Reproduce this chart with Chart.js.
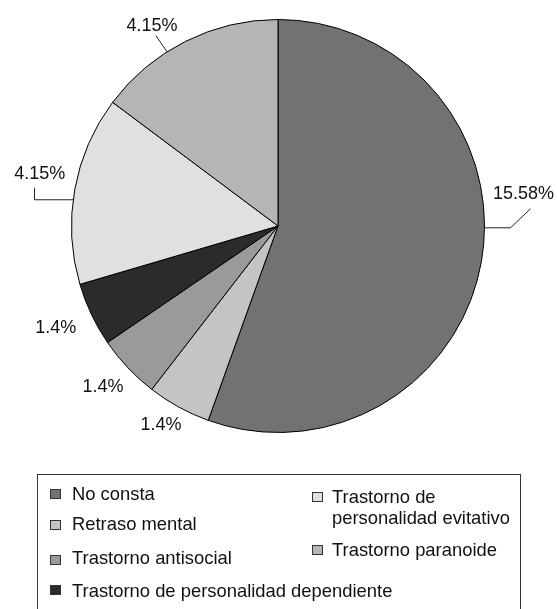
<!DOCTYPE html>
<html>
<head>
<meta charset="utf-8">
<script src="https://cdn.jsdelivr.net/npm/chart.js@4/dist/chart.umd.min.js"></script>
<style>
  html, body { margin: 0; padding: 0; background: #fff; overflow: hidden; }
  #wrap { position: relative; width: 557px; height: 609px; }
  #c { position: absolute; left: 0; top: 0; }
  #legend { position: absolute; left: 37px; top: 474px; width: 484px; height: 160px;
            border: 1px solid #333; box-sizing: border-box; }
  .item { position: absolute; font-family: "Liberation Sans", Arial, sans-serif; font-size: 18.4px;
          line-height: 20px; color: #111; white-space: nowrap; }
  .sw { position: absolute; width: 11px; height: 10px; border: 1px solid #333; box-sizing: border-box; }
</style>
</head>
<body>
<div id="wrap">
  <canvas id="c" width="557" height="609"></canvas>
  <div id="legend"></div>
</div>
<script>
// ---- data ----
const categories = [
  "No consta",
  "Retraso mental",
  "Trastorno antisocial",
  "Trastorno de personalidad dependiente",
  "Trastorno de personalidad evitativo",
  "Trastorno paranoide"
];
const values = [15.58, 1.4, 1.4, 1.4, 4.15, 4.15];
const valueLabels = ["15.58%", "1.4%", "1.4%", "1.4%", "4.15%", "4.15%"];
const colors = ["#727272", "#c4c4c4", "#9a9a9a", "#2b2b2b", "#e0e0e0", "#b5b5b5"];

// ---- label layout (positions relative to the arc drawn by Chart.js) ----
const labelLayout = [
  { type: "leader", angle: 90.5, pts: [[26, 0], [46, -19]], text: [39, -34] },
  { type: "radial", angleAdj: 1.8, gap: 24 },
  { type: "radial", angleAdj: 0.8, gap: 31 },
  { type: "radial", angleAdj: 0.7, gap: 38 },
  { type: "leader", angle: 277.3, pts: [[-38.7, 0], [-38.7, -12]], text: [-33.5, -25.6] },
  { type: "leader", angle: 327.5, pts: [[-11, -16]], text: [-15, -26] }
];

const labelPlugin = {
  id: "sliceLabels",
  afterDatasetsDraw(chart) {
    const ctx = chart.ctx;
    const meta = chart.getDatasetMeta(0);
    ctx.save();
    ctx.font = '18px "Liberation Sans", Arial, sans-serif';
    ctx.fillStyle = "#111";
    ctx.strokeStyle = "#222";
    ctx.lineWidth = 1;
    ctx.textAlign = "center";
    ctx.textBaseline = "middle";
    meta.data.forEach((arc, i) => {
      const p = arc.getProps(["x", "y", "outerRadius", "startAngle", "endAngle"], true);
      const L = labelLayout[i];
      if (L.type === "leader") {
        const a = (L.angle - 90) * Math.PI / 180;
        const ax = p.x + p.outerRadius * Math.cos(a);
        const ay = p.y + p.outerRadius * Math.sin(a);
        ctx.beginPath();
        ctx.moveTo(ax, ay);
        L.pts.forEach(o => ctx.lineTo(ax + o[0], ay + o[1]));
        ctx.stroke();
        ctx.fillText(valueLabels[i], ax + L.text[0], ay + L.text[1]);
      } else {
        const mid = (p.startAngle + p.endAngle) / 2 + L.angleAdj * Math.PI / 180;
        const r = p.outerRadius + L.gap;
        ctx.fillText(valueLabels[i], p.x + r * Math.cos(mid), p.y + r * Math.sin(mid));
      }
    });
    ctx.restore();
  }
};

new Chart(document.getElementById("c"), {
  type: "pie",
  data: {
    labels: categories,
    datasets: [{
      data: values,
      backgroundColor: colors,
      borderColor: "#000",
      borderWidth: 1
    }]
  },
  options: {
    responsive: false,
    animation: false,
    layout: { padding: { left: 71, top: 19, right: 72, bottom: 176 } },
    plugins: { legend: { display: false }, tooltip: { enabled: false } }
  },
  plugins: [labelPlugin]
});

// ---- HTML legend (two columns) built from categories/colors ----
const legendPlacement = [
  { col: 0, textTop: 8.5, swTop: 13.5 },
  { col: 0, textTop: 38.5, swTop: 44.5 },
  { col: 0, textTop: 72.5, swTop: 79.5 },
  { col: 0, textTop: 106, swTop: 109.5 },
  { col: 1, textTop: 10.5, swTop: 17, wrap: true },
  { col: 1, textTop: 64.5, swTop: 70 }
];
const colX = [{ sw: 12, tx: 34 }, { sw: 274, tx: 294 }];
const leg = document.getElementById("legend");
categories.forEach((name, i) => {
  const pl = legendPlacement[i];
  const sw = document.createElement("div");
  sw.className = "sw";
  sw.style.left = colX[pl.col].sw + "px";
  sw.style.top = pl.swTop + "px";
  sw.style.background = colors[i];
  leg.appendChild(sw);
  const t = document.createElement("div");
  t.className = "item";
  t.style.left = colX[pl.col].tx + "px";
  t.style.top = pl.textTop + "px";
  if (pl.wrap) {
    t.style.lineHeight = "21.5px";
    const parts = name.split(" de ");
    t.appendChild(document.createTextNode(parts[0] + " de"));
    t.appendChild(document.createElement("br"));
    t.appendChild(document.createTextNode(parts[1]));
  } else {
    t.textContent = name;
  }
  leg.appendChild(t);
});
</script>
</body>
</html>
